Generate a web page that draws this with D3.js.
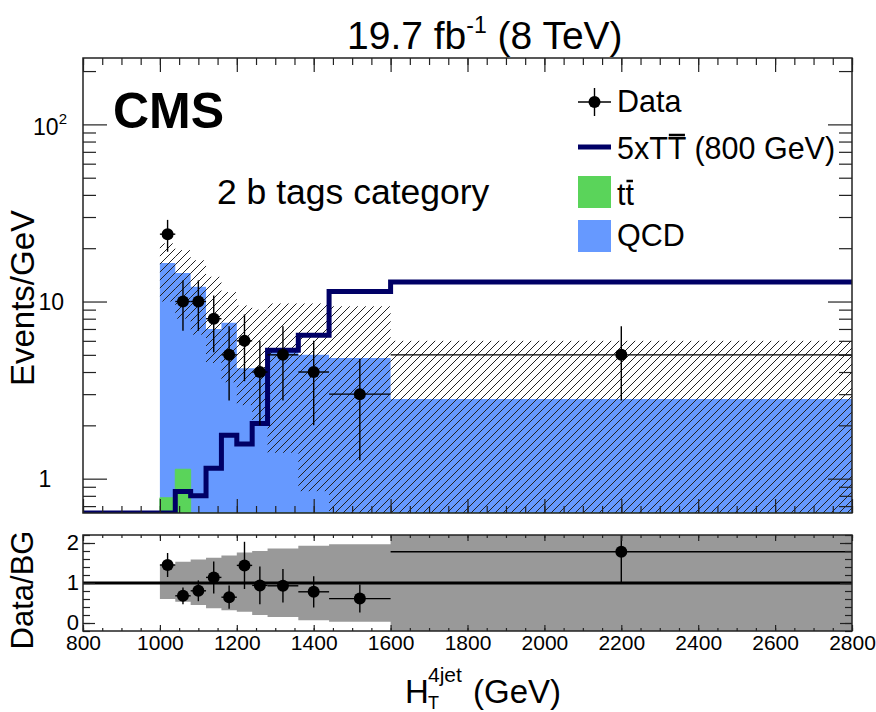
<!DOCTYPE html>
<html>
<head>
<meta charset="utf-8">
<script src="https://cdn.jsdelivr.net/npm/d3@7"></script>
<style>
  body { margin: 0; background: #fff; }
  svg text { font-family: "Liberation Sans", Arial, Helvetica, sans-serif; fill: #000; }
</style>
</head>
<body>
<svg id="chart" width="876" height="712"></svg>
<script>
// histogram binning (GeV)
var binEdges = [1000, 1040, 1080, 1120, 1160, 1200, 1240, 1280, 1360, 1440, 1600, 2800];
// stacked backgrounds, events/GeV
var ttbar = [0.78, 1.13, 0.45, 0.35, 0.30, 0.25, 0.20, 0.18, 0.15, 0.12, 0.05];
var qcd   = [15.72, 13.37, 11.65, 6.65, 7.30, 3.95, 4.00, 5.02, 4.85, 4.68, 2.77];
// background uncertainty band
var bandHi = [21.3, 19.5, 17.1, 13.8, 11.3, 9.5, 9.0, 9.75, 9.75, 9.4, 6.0];
var bandLo = [10.0, 8.0, 6.5, 4.5, 3.5, 2.6, 2.0, 1.4, 0.85, 0.6, 0.3];
// 5 x TTbar signal, 800 GeV
var sigEdges = [800, 1000, 1040, 1080, 1120, 1160, 1200, 1240, 1280, 1360, 1440, 1600, 2800];
var signal   = [0, 0, 0.845, 0.80, 1.145, 1.76, 1.57, 2.05, 5.3, 6.45, 11.4, 12.9];
// data
var dataX   = [1020, 1060, 1100, 1140, 1180, 1220, 1260, 1320, 1400, 1520, 2200];
var dataY   = [24, 10, 10, 8, 5, 6, 4, 5, 4, 3, 5];
var dataErr = [4.9, 3.16, 3.16, 2.83, 2.24, 2.45, 2.0, 2.24, 2.0, 1.73, 2.24];
// data / background
var ratio    = [1.45, 0.68, 0.805, 1.14, 0.645, 1.44, 0.94, 0.93, 0.78, 0.61, 1.78];
var ratioErr = [0.30, 0.21, 0.26, 0.40, 0.29, 0.59, 0.47, 0.42, 0.39, 0.35, 0.80];
var rBandHi  = [1.46, 1.53, 1.59, 1.63, 1.69, 1.76, 1.80, 1.86, 1.93, 1.97, 2.4];
var rBandLo  = [0.60, 0.53, 0.45, 0.37, 0.32, 0.28, 0.20, 0.15, 0.07, 0.03, -0.4];
// axis ticks
var xMajor = d3.range(800, 2801, 200);
var xMinor = d3.range(800, 2801, 50);
var yMajor = [1, 10, 100];
var yMinor = [0.7, 0.8, 0.9, 2, 3, 4, 5, 6, 7, 8, 9, 20, 30, 40, 50, 60, 70, 80, 90, 200];
var rMajor = [0, 1, 2];
var rMinor = d3.range(-0.2, 2.21, 0.2);

var svg = d3.select("#chart");
var L = 83, R = 852, T = 58, B = 513, RT = 535, RB = 631;

var x = d3.scaleLinear().domain([800, 2800]).range([L, R]);
var y = d3.scaleLog().domain([0.64, 237]).range([B, T]);
var yr = d3.scaleLinear().domain([-0.2, 2.2]).range([RB, RT]);
var yc = function(v) { return y(Math.max(v, 0.64)); };

var defs = svg.append("defs");
defs.append("clipPath").attr("id", "clipMain")
  .append("rect").attr("x", L).attr("y", T).attr("width", R - L).attr("height", B - T);
defs.append("clipPath").attr("id", "clipRatio")
  .append("rect").attr("x", L).attr("y", RT).attr("width", R - L).attr("height", RB - RT);
defs.append("pattern").attr("id", "hatch").attr("patternUnits", "userSpaceOnUse")
  .attr("width", 8).attr("height", 8)
  .append("path").attr("d", "M-1,1 l2,-2 M0,8 l8,-8 M7,9 l2,-2")
  .attr("stroke", "#222").attr("stroke-width", 1);

var bins = d3.range(qcd.length);

// step outline of a binned series -> [[x, value], ...]
function steps(edges, vals) {
  var pts = [];
  vals.forEach(function(v, i) { pts.push([edges[i], v], [edges[i + 1], v]); });
  return pts;
}
var stepArea = d3.area()
  .x(function(d) { return x(d[0]); })
  .y0(B + 1)
  .y1(function(d) { return yc(d[1]); });

// ---- main pad ----
var main = svg.append("g").attr("clip-path", "url(#clipMain)");

main.append("path")
  .attr("d", stepArea(steps(binEdges, bins.map(function(i) { return ttbar[i] + qcd[i]; }))))
  .attr("fill", "#6699ff");
main.append("path")
  .attr("d", stepArea(steps(binEdges, ttbar)))
  .attr("fill", "#5ad45a").attr("stroke", "#5ad45a").attr("stroke-width", 1);

main.selectAll("rect.band").data(bins).enter().append("rect")
  .attr("class", "band")
  .attr("x", function(i) { return x(binEdges[i]); })
  .attr("width", function(i) { return x(binEdges[i + 1]) - x(binEdges[i]); })
  .attr("y", function(i) { return yc(bandHi[i]); })
  .attr("height", function(i) { return yc(bandLo[i]) - yc(bandHi[i]); })
  .attr("fill", "url(#hatch)");

// signal step line
main.append("path")
  .attr("d", d3.line().x(function(d) { return x(d[0]); }).y(function(d) { return yc(d[1]); })(steps(sigEdges, signal)))
  .attr("fill", "none").attr("stroke", "#000066").attr("stroke-width", 5)
  .attr("stroke-linejoin", "miter");

// data points
function drawPoints(g, ys, errs, ysc) {
  var pts = g.selectAll("g.pt").data(bins).enter().append("g").attr("class", "pt");
  pts.append("line")
    .attr("x1", function(i) { return x(binEdges[i]); })
    .attr("x2", function(i) { return x(binEdges[i + 1]); })
    .attr("y1", function(i) { return ysc(ys[i]); })
    .attr("y2", function(i) { return ysc(ys[i]); });
  pts.append("line")
    .attr("x1", function(i) { return x(dataX[i]); })
    .attr("x2", function(i) { return x(dataX[i]); })
    .attr("y1", function(i) { return ysc(ys[i] + errs[i]); })
    .attr("y2", function(i) { return ysc(Math.max(ys[i] - errs[i], 0.01)); });
  pts.selectAll("line").attr("stroke", "#000").attr("stroke-width", 1.4);
  pts.append("circle")
    .attr("cx", function(i) { return x(dataX[i]); })
    .attr("cy", function(i) { return ysc(ys[i]); })
    .attr("r", 6).attr("fill", "#000");
}
drawPoints(main, dataY, dataErr, y);

// ---- ratio pad ----
var rp = svg.append("g").attr("clip-path", "url(#clipRatio)");
rp.append("path")
  .attr("d", d3.area()
    .x(function(d) { return x(d[0]); })
    .y0(function(d) { return yr(d[2]); })
    .y1(function(d) { return yr(d[1]); })(
      bins.reduce(function(a, i) {
        a.push([binEdges[i], rBandHi[i], rBandLo[i]], [binEdges[i + 1], rBandHi[i], rBandLo[i]]);
        return a;
      }, [])))
  .attr("fill", "#999999");
rp.append("line")
  .attr("x1", x(800)).attr("x2", x(2800)).attr("y1", yr(1)).attr("y2", yr(1))
  .attr("stroke", "#000").attr("stroke-width", 3);
drawPoints(rp, ratio, ratioErr, yr);

// ---- frames and ticks ----
function ticks(axisFn, scale, vals, size, tx, ty) {
  var g = svg.append("g").attr("transform", "translate(" + tx + "," + ty + ")")
    .call(axisFn(scale).tickValues(vals).tickSizeInner(size).tickSizeOuter(0).tickFormat(""));
  g.select(".domain").remove();
  g.selectAll("line").attr("stroke", "#222").attr("stroke-width", 1.2);
  return g;
}
// main pad
ticks(d3.axisBottom, x, xMinor, -7, 0, B);
ticks(d3.axisBottom, x, xMajor, -14, 0, B);
ticks(d3.axisTop, x, xMinor, -7, 0, T);
ticks(d3.axisTop, x, xMajor, -14, 0, T);
ticks(d3.axisLeft, y, yMinor, -13, L, 0);
ticks(d3.axisLeft, y, yMajor, -24, L, 0);
ticks(d3.axisRight, y, yMinor, -13, R, 0);
ticks(d3.axisRight, y, yMajor, -24, R, 0);
// ratio pad
ticks(d3.axisTop, x, xMinor, -3, 0, RT);
ticks(d3.axisTop, x, xMajor, -6, 0, RT);
ticks(d3.axisBottom, x, xMinor, -3, 0, RB);
var xb = svg.append("g").attr("transform", "translate(0," + RB + ")")
  .call(d3.axisBottom(x).tickValues(xMajor).tickSizeInner(-6).tickSizeOuter(0)
    .tickPadding(4).tickFormat(d3.format("d")));
xb.select(".domain").remove();
xb.selectAll("line").attr("stroke", "#222").attr("stroke-width", 1.2);
xb.selectAll("text").attr("font-size", 21).attr("font-family", null);
ticks(d3.axisLeft, yr, rMinor, -7, L, 0);
ticks(d3.axisRight, yr, rMinor, -7, R, 0);
var yrl = svg.append("g").attr("transform", "translate(" + L + ",0)")
  .call(d3.axisLeft(yr).tickValues(rMajor).tickSizeInner(-12).tickSizeOuter(0)
    .tickPadding(4).tickFormat(d3.format("d")));
yrl.select(".domain").remove();
yrl.selectAll("line").attr("stroke", "#222").attr("stroke-width", 1.2);
yrl.selectAll("text").attr("font-size", 22).attr("font-family", null).attr("dy", "0.3em");
ticks(d3.axisRight, yr, rMajor, -12, R, 0);

svg.append("rect").attr("x", L).attr("y", T).attr("width", R - L).attr("height", B - T)
  .attr("fill", "none").attr("stroke", "#222").attr("stroke-width", 1.5);
svg.append("rect").attr("x", L).attr("y", RT).attr("width", R - L).attr("height", RB - RT)
  .attr("fill", "none").attr("stroke", "#222").attr("stroke-width", 1.5);

// log axis labels
var yl = svg.append("g").attr("font-size", 23);
yl.append("text").attr("x", 45).attr("y", y(1) + 8).attr("text-anchor", "middle").text("1");
yl.append("text").attr("x", 64).attr("y", y(10) + 8).attr("text-anchor", "end").text("10");
var t100 = yl.append("text").attr("x", 67).attr("y", y(100) + 11).attr("text-anchor", "end");
t100.append("tspan").text("10");
t100.append("tspan").attr("font-size", 15).attr("dy", -11).text("2");

// ---- texts ----
var title = svg.append("text").attr("x", 347).attr("y", 49).attr("font-size", 39);
title.append("tspan").text("19.7 fb");
title.append("tspan").attr("font-size", 23).attr("dy", -16).text("-1");
title.append("tspan").attr("dy", 16).text(" (8 TeV)");

svg.append("text").attr("x", 113).attr("y", 128).attr("font-size", 50)
  .attr("font-weight", "bold").text("CMS");
svg.append("text").attr("x", 217).attr("y", 204).attr("font-size", 35.5).text("2 b tags category");

svg.append("text").attr("transform", "translate(34,298) rotate(-90)")
  .attr("text-anchor", "middle").attr("font-size", 33).text("Events/GeV");
svg.append("text").attr("transform", "translate(33,590) rotate(-90)")
  .attr("text-anchor", "middle").attr("font-size", 31).text("Data/BG");

var xt = svg.append("g");
xt.append("text").attr("x", 405).attr("y", 703).attr("font-size", 33).text("H");
xt.append("text").attr("x", 428).attr("y", 709).attr("font-size", 18).text("T");
xt.append("text").attr("x", 428).attr("y", 682).attr("font-size", 21).text("4jet");
xt.append("text").attr("x", 473).attr("y", 703).attr("font-size", 33).text("(GeV)");

// ---- legend ----
var lg = svg.append("g");
var lx = 578, lw = 33, tx0 = 617, lf = 30.5;
lg.append("line").attr("x1", lx).attr("x2", lx + lw).attr("y1", 102).attr("y2", 102)
  .attr("stroke", "#000").attr("stroke-width", 1.4);
lg.append("line").attr("x1", lx + lw / 2).attr("x2", lx + lw / 2).attr("y1", 88).attr("y2", 116)
  .attr("stroke", "#000").attr("stroke-width", 1.4);
lg.append("circle").attr("cx", lx + lw / 2).attr("cy", 102).attr("r", 6).attr("fill", "#000");
lg.append("text").attr("x", tx0).attr("y", 112).attr("font-size", lf).text("Data");

lg.append("line").attr("x1", lx).attr("x2", lx + lw).attr("y1", 147).attr("y2", 147)
  .attr("stroke", "#000066").attr("stroke-width", 5);
var sigTxt = lg.append("text").attr("x", tx0).attr("y", 159).attr("font-size", lf).text("5xTT (800 GeV)");

lg.append("rect").attr("x", lx).attr("y", 176).attr("width", lw).attr("height", 32).attr("fill", "#5ad45a");
var ttTxt = lg.append("text").attr("x", tx0).attr("y", 205).attr("font-size", lf).text("tt");

lg.append("rect").attr("x", lx).attr("y", 220).attr("width", lw).attr("height", 32).attr("fill", "#6699ff");
lg.append("text").attr("x", tx0).attr("y", 246).attr("font-size", lf).text("QCD");

// overline bars on the anti-quark symbols
function overline(txt, idx, base) {
  var e = txt.node().getExtentOfChar(idx);
  lg.append("line").attr("x1", e.x + 1).attr("x2", e.x + e.width - 1)
    .attr("y1", base - 24).attr("y2", base - 24)
    .attr("stroke", "#000").attr("stroke-width", 2.5);
}
overline(sigTxt, 3, 159);
overline(ttTxt, 1, 205);
</script>
</body>
</html>
